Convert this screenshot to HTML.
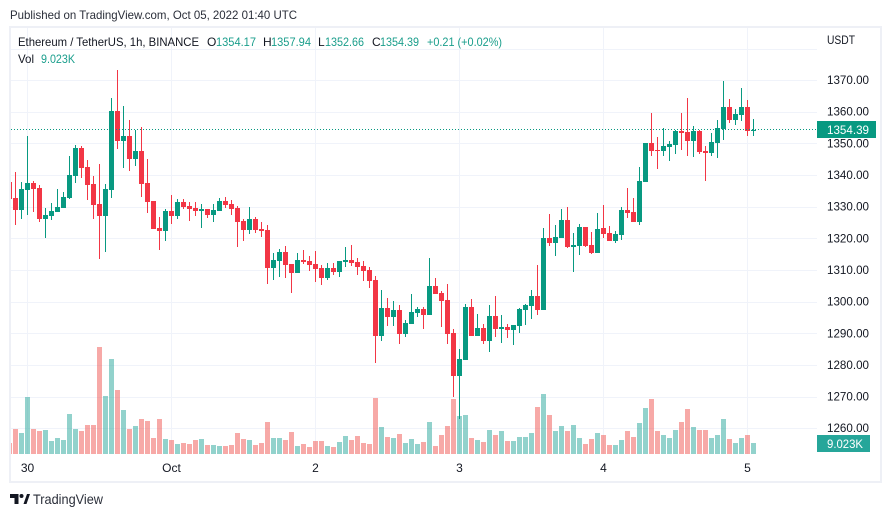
<!DOCTYPE html>
<html lang="en">
<head>
<meta charset="utf-8">
<title>ETH/USDT 1h chart</title>
<style>
html,body{margin:0;padding:0;background:#fff;width:891px;height:517px;overflow:hidden}
svg{display:block}
text{font-family:"Liberation Sans",sans-serif;font-size:12px;fill:#131722}
.g{fill:#1a9e8c}
</style>
</head>
<body>
<svg id="chart" xmlns="http://www.w3.org/2000/svg" width="891" height="517" viewBox="0 0 891 517">
  <text x="10" y="19" textLength="287" lengthAdjust="spacingAndGlyphs" fill="#131722" style="fill:#2a2e39">Published on TradingView.com, Oct 05, 2022 01:40 UTC</text>
  <defs><clipPath id="plot-clip"><rect x="10" y="28" width="807" height="453"/></clipPath></defs>
  <g id="grid"></g>
  <g id="marks" clip-path="url(#plot-clip)">
    <g id="volume"></g>
    <g id="candles"></g>
  </g>
  <line id="last-line" x1="11" x2="817" stroke="#089981" stroke-width="1" stroke-dasharray="1 2" shape-rendering="crispEdges"/>
  <g id="price-axis"></g>
  <g id="time-axis"></g>
  <path d="M10 27H881V482H10Z" fill="none" stroke="#eef0f6" stroke-width="2"/>
  <text x="827" y="44" textLength="28" lengthAdjust="spacingAndGlyphs">USDT</text>
  <g>
    <text x="18" y="46" textLength="181" lengthAdjust="spacingAndGlyphs">Ethereum / TetherUS, 1h, BINANCE</text>
    <text x="207" y="46">O</text>
    <text class="g" x="216" y="46" textLength="40" lengthAdjust="spacingAndGlyphs">1354.17</text>
    <text x="263" y="46">H</text>
    <text class="g" x="271" y="46" textLength="40" lengthAdjust="spacingAndGlyphs">1357.94</text>
    <text x="318" y="46">L</text>
    <text class="g" x="325" y="46" textLength="39" lengthAdjust="spacingAndGlyphs">1352.66</text>
    <text x="372" y="46">C</text>
    <text class="g" x="380" y="46" textLength="39" lengthAdjust="spacingAndGlyphs">1354.39</text>
    <text class="g" x="427" y="46" textLength="75" lengthAdjust="spacingAndGlyphs">+0.21 (+0.02%)</text>
    <text x="18" y="63" textLength="16" lengthAdjust="spacingAndGlyphs">Vol</text>
    <text class="g" x="41" y="63" textLength="34" lengthAdjust="spacingAndGlyphs">9.023K</text>
  </g>
  <g id="last-label"></g>
  <g id="vol-label"></g>
  <g>
    <path d="M10 494H18.5V504H14.5V498H10ZM23.5 504L27 494H30L26.5 504Z" fill="#131722"/>
    <circle cx="21.5" cy="496" r="2" fill="#131722"/>
    <text x="33" y="504" textLength="70" lengthAdjust="spacingAndGlyphs" style="font-size:14px;fill:#2a2e39">TradingView</text>
  </g>
</svg>
<script>
const opens = [
1338.0,1332.9,1329.1,1335.5,1337.7,1336.1,1326.3,1327.2,1328.5,1329.8,
1332.9,1339.9,1348.7,1342.7,1337.4,1331.0,1327.2,1335.5,1360.4,1351.0,
1352.5,1345.3,1347.8,1337.7,1332.0,1323.5,1322.5,1328.8,1327.2,1331.7,
1330.4,1329.8,1328.8,1329.5,1327.6,1328.8,1332.0,1331.0,1329.8,1325.7,
1322.8,1326.3,1323.2,1322.8,1310.8,1313.0,1315.9,1312.1,1309.2,1313.4,
1313.0,1312.1,1310.8,1307.7,1310.8,1309.6,1312.7,1313.4,1312.7,1311.5,
1310.2,1307.0,1289.3,1298.2,1295.3,1297.6,1290.0,1293.1,1296.6,1297.9,
1296.0,1305.2,1302.9,1300.7,1290.3,1276.7,1281.8,1298.5,1289.3,1291.9,
1287.8,1295.7,1291.6,1292.2,1291.2,1292.5,1297.6,1298.8,1302.0,1297.6,
1320.3,1318.7,1320.3,1326.0,1317.5,1317.8,1323.8,1318.1,1315.6,1323.5,
1321.9,1319.4,1321.3,1329.1,1328.5,1325.4,1338.0,1350.3,1348.1,1347.8,
1349.0,1349.7,1354.1,1353.8,1351.0,1354.1,1347.8,1347.2,1350.3,1354.7,
1361.7,1357.6,1359.2,1361.7,1354.17];
const highs = [
1338.0,1341.1,1338.0,1352.5,1338.3,1337.0,1329.8,1331.4,1335.8,1334.8,
1346.2,1349.7,1349.4,1344.9,1339.9,1343.7,1337.4,1364.5,1373.4,1362.0,
1357.6,1354.4,1355.4,1345.3,1332.0,1326.9,1329.5,1333.9,1332.6,1332.6,
1331.7,1331.7,1331.0,1329.5,1331.0,1332.9,1333.2,1332.3,1330.4,1326.3,
1330.1,1326.9,1325.4,1324.4,1315.6,1316.8,1317.8,1312.1,1315.6,1316.5,
1314.6,1316.2,1311.8,1312.4,1312.4,1313.0,1317.5,1318.1,1314.0,1313.0,
1311.1,1308.3,1303.9,1301.3,1300.4,1299.1,1294.4,1302.6,1298.5,1298.5,
1314.0,1307.7,1303.6,1305.8,1291.6,1285.2,1299.5,1301.0,1296.3,1293.1,
1299.1,1302.0,1296.0,1293.1,1292.8,1298.2,1299.5,1303.9,1311.8,1323.5,
1327.9,1324.4,1329.5,1330.1,1321.9,1324.7,1323.8,1322.2,1328.2,1330.7,
1324.1,1322.5,1330.1,1336.1,1332.9,1342.7,1350.3,1359.8,1352.2,1355.1,
1350.9,1354.4,1359.8,1364.5,1355.7,1354.4,1349.4,1353.5,1357.6,1369.9,
1364.2,1361.1,1367.7,1363.9,1357.94];
const lows = [
1332.7,1324.4,1326.3,1327.6,1328.5,1325.4,1320.3,1326.0,1328.5,1329.8,
1332.6,1337.7,1339.3,1332.3,1326.3,1313.7,1315.9,1332.9,1348.4,1342.4,
1341.5,1343.0,1333.2,1328.2,1323.1,1316.5,1319.4,1324.7,1326.3,1329.5,
1325.7,1327.2,1323.5,1326.6,1325.4,1328.8,1329.8,1327.6,1317.5,1319.4,
1321.6,1321.9,1320.6,1305.8,1307.0,1308.0,1307.7,1302.9,1309.2,1312.1,
1309.9,1306.4,1305.5,1307.0,1308.6,1308.0,1311.1,1311.5,1308.6,1306.7,
1304.5,1280.8,1287.8,1292.5,1292.5,1286.8,1289.0,1293.1,1295.3,1291.6,
1296.0,1302.6,1292.2,1286.8,1270.1,1263.2,1281.8,1289.3,1289.3,1286.8,
1284.3,1289.0,1287.1,1288.7,1286.5,1290.3,1292.8,1294.7,1296.0,1297.6,
1317.8,1314.6,1320.3,1317.1,1309.6,1314.9,1317.5,1315.2,1315.6,1320.2,
1319.4,1318.7,1319.7,1326.6,1325.4,1324.4,1338.0,1346.2,1342.1,1346.2,
1344.6,1346.8,1348.1,1346.2,1345.9,1346.8,1338.3,1346.2,1345.6,1351.3,
1356.6,1356.0,1357.3,1352.5,1352.66];
const closes = [
1332.7,1329.1,1335.8,1337.7,1335.8,1326.3,1327.6,1328.8,1330.1,1333.2,
1340.2,1348.7,1342.4,1337.0,1330.7,1327.2,1335.8,1360.4,1351.0,1352.5,
1345.3,1347.8,1337.4,1331.7,1323.1,1322.5,1328.8,1327.2,1331.7,1330.1,
1329.5,1328.8,1329.5,1327.6,1329.1,1332.0,1330.7,1329.5,1325.4,1322.8,
1326.3,1322.8,1322.5,1310.8,1313.4,1315.9,1311.8,1309.2,1313.4,1312.7,
1311.8,1310.5,1307.7,1310.8,1309.6,1313.0,1313.4,1312.4,1311.1,1309.9,
1306.7,1289.3,1298.2,1295.3,1297.6,1290.0,1293.4,1296.9,1297.9,1296.0,
1305.2,1302.6,1300.4,1290.0,1276.7,1282.1,1298.5,1289.3,1291.9,1287.8,
1295.7,1291.6,1292.2,1291.2,1292.8,1297.9,1299.1,1302.0,1297.6,1320.3,
1318.7,1320.6,1326.0,1317.5,1318.1,1323.8,1317.8,1315.6,1323.2,1321.6,
1319.4,1321.6,1329.1,1328.2,1325.4,1338.3,1350.3,1347.8,1347.8,1349.4,
1350.0,1354.1,1353.5,1351.0,1354.1,1347.5,1347.2,1350.6,1355.1,1361.7,
1357.6,1359.5,1361.7,1354.1,1354.39];
const volumes = [
9.0,20.5,17.2,46.7,20.5,18.9,19.7,10.7,13.1,11.5,
32.8,20.5,18.9,23.8,23.8,87.7,47.6,77.9,52.5,36.1,
20.5,23.0,28.7,27.1,13.1,28.7,12.3,11.5,8.2,9.0,
8.2,11.5,12.3,7.4,7.4,6.6,6.6,7.4,17.2,12.3,
11.5,7.4,9.0,26.2,13.1,13.1,11.5,18.0,6.6,8.2,
5.7,10.7,10.7,6.6,5.7,9.8,14.8,11.5,14.8,9.0,
8.2,45.9,22.1,13.9,13.1,16.4,9.0,12.3,8.2,9.8,
26.2,6.6,15.6,23.0,45.1,31.2,32.0,13.1,11.5,9.8,
19.7,15.6,18.9,10.7,10.7,13.9,13.9,17.2,38.5,49.2,
32.0,18.9,23.0,18.9,23.8,13.1,8.2,12.3,17.2,15.6,
7.4,7.4,11.5,18.9,13.9,25.4,37.7,45.1,18.9,15.6,
13.1,19.7,26.2,36.9,22.1,19.7,19.7,13.1,15.6,28.7,
12.3,9.0,13.1,15.6,9.023];
const priceTicks = [1370,1360,1350,1340,1330,1320,1310,1300,1290,1280,1270,1260];
const gridOnlyPrices = [1380];
const timeTickBars = [3,27,51,75,99,123];
const timeTickLabels = ["30","Oct","2","3","4","5"];
const lastPrice = 1354.39;
const lastPriceText = "1354.39";
const lastVolume = 9.023;
const lastVolumeText = "9.023K";

const NS = "http://www.w3.org/2000/svg";
function xBar(i){ return 9.5 + 6 * i; }
function yPrice(p){ return 80.67 + (1370 - p) * 3.165; }
function yVol(v){ return 454 - v / 0.82; }
function mk(parent, tag, attrs, txt){
  const el = document.createElementNS(NS, tag);
  for (const k in attrs) el.setAttribute(k, attrs[k]);
  if (txt !== undefined) el.textContent = txt;
  parent.appendChild(el);
  return el;
}
const gridG = document.getElementById("grid");
const axisG = document.getElementById("price-axis");
const timeG = document.getElementById("time-axis");
const volG = document.getElementById("volume");
const candG = document.getElementById("candles");

priceTicks.concat(gridOnlyPrices).forEach(function(p){
  const line = mk(gridG, "rect", {x:11, y:Math.round(yPrice(p) - 0.5), width:806, height:1, fill:"#f0f3fa"});
  
  
});
timeTickBars.forEach(function(b){
  const line = mk(gridG, "rect", {x:Math.floor(xBar(b)), y:28, width:1, height:426, fill:"#f0f3fa"});
  
  
});
priceTicks.forEach(function(p){
  const t = mk(axisG, "text", {x:827, y:(yPrice(p) + 3.4).toFixed(1), textLength:42, lengthAdjust:"spacingAndGlyphs"}, p.toFixed(2));
  
  
});
timeTickBars.forEach(function(b, k){
  const t = mk(timeG, "text", {x:xBar(b), y:472, "text-anchor":"middle"}, timeTickLabels[k]);
  
  
});
volumes.forEach(function(v, i){
  const up = closes[i] >= opens[i];
  const top = Math.round(yVol(v));
  const bar = mk(volG, "rect", {x:xBar(i) - 2.5, y:top, width:5, height:454 - top, fill:up ? "#26a69a" : "#ef5350", "fill-opacity":0.5});
  
  
});
opens.forEach(function(o, i){
  const c = closes[i];
  const up = c >= o;
  const col = up ? "#089981" : "#f23645";
  const wt = Math.round(yPrice(highs[i]));
  const wb = Math.round(yPrice(lows[i]));
  const wick = mk(candG, "rect", {x:xBar(i) - 0.5, y:wt, width:1, height:Math.max(1, wb - wt), fill:col});
  
  
  const bt = Math.round(yPrice(Math.max(o, c)));
  const bb = Math.round(yPrice(Math.min(o, c)));
  const body = mk(candG, "rect", {x:xBar(i) - 2.5, y:bt, width:5, height:Math.max(1, bb - bt), fill:col});
  
  
});
const ly = Math.floor(yPrice(lastPrice) - 0.5) + 0.5;
const lastLine = document.getElementById("last-line");
lastLine.setAttribute("y1", ly);
lastLine.setAttribute("y2", ly);

const lastG = document.getElementById("last-label");
const lastBox = mk(lastG, "rect", {x:817, y:Math.round(yPrice(lastPrice) - 9), width:59, height:17, fill:"#089981"});


const lastText = mk(lastG, "text", {x:827, y:Math.round(yPrice(lastPrice) + 4), textLength:42, lengthAdjust:"spacingAndGlyphs", style:"fill:#fff"}, lastPriceText);



const volLabG = document.getElementById("vol-label");
const volBox = mk(volLabG, "rect", {x:817, y:Math.round(yVol(lastVolume) - 8), width:53, height:17, fill:"#26a69a"});


const volText = mk(volLabG, "text", {x:827, y:Math.round(yVol(lastVolume) + 5), textLength:36, lengthAdjust:"spacingAndGlyphs", style:"fill:#fff"}, lastVolumeText);


</script>
</body>
</html>
